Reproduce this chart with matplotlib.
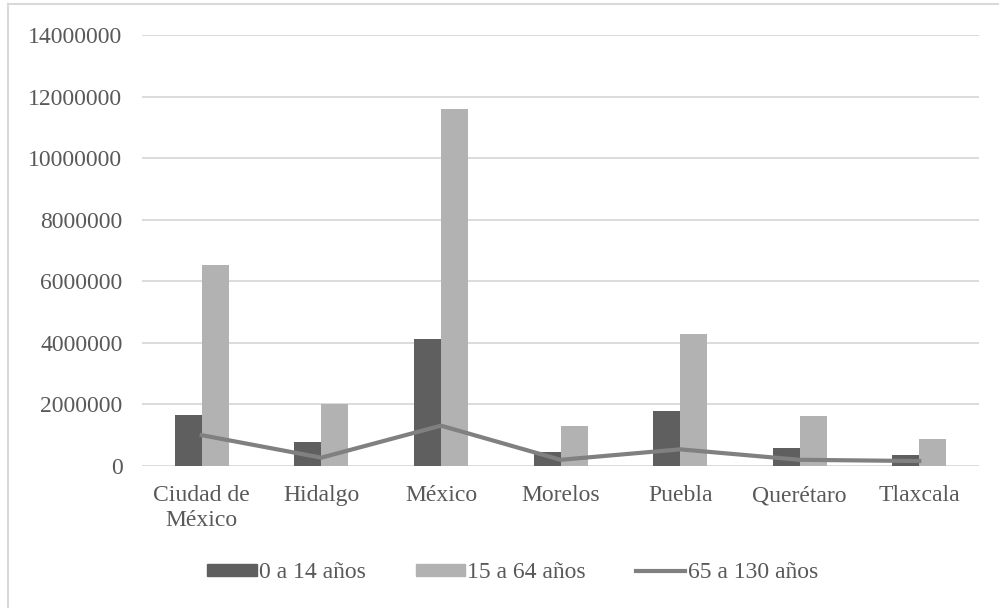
import matplotlib.pyplot as plt
import matplotlib.lines as mlines
import numpy as np

plt.rcParams['font.family'] = ['Liberation Serif', 'DejaVu Serif']

# Población por grupo de edad, región centro
estados = ['Ciudad de\nMéxico', 'Hidalgo', 'México', 'Morelos', 'Puebla', 'Querétaro', 'Tlaxcala']
edad_0_14 = [1660000, 780000, 4120000, 450000, 1780000, 580000, 350000]
edad_15_64 = [6520000, 2010000, 11600000, 1300000, 4280000, 1620000, 880000]
edad_65_130 = [1000000, 270000, 1310000, 200000, 540000, 200000, 160000]

gris_oscuro = '#5f5f5f'
gris_claro = '#b2b2b2'
gris_linea = '#808080'
texto = '#595959'

fig = plt.figure(figsize=(9.99, 6.08), dpi=100)
ax = fig.add_axes([0.1421, 0.2336, 0.838, 0.7089])

x = np.arange(len(estados))
ancho = 0.226
ax.bar(x - ancho / 2, edad_0_14, ancho, color=gris_oscuro, zorder=2, label='0 a 14 años')
ax.bar(x + ancho / 2, edad_15_64, ancho, color=gris_claro, zorder=2, label='15 a 64 años')
ax.plot(x, edad_65_130, color=gris_linea, lw=3, zorder=3, label='65 a 130 años')

ax.set_xlim(-0.5, len(estados) - 0.5)
ax.set_ylim(0, 14000000)
ax.set_yticks(np.arange(0, 14000001, 2000000))
ax.set_yticklabels([f'{int(v)}' for v in np.arange(0, 14000001, 2000000)])
ax.yaxis.grid(True, color='#d9d9d9', lw=1.3, zorder=0)
ax.set_xticks(x)
ax.set_xticklabels(estados, linespacing=1.25)
for s in ax.spines.values():
    s.set_visible(False)
ax.tick_params(axis='both', length=0, colors=texto, labelsize=17)
ax.tick_params(axis='y', pad=14)
ax.tick_params(axis='x', pad=14)

h1 = plt.Rectangle((0, 0), 1, 1, color=gris_oscuro)
h2 = plt.Rectangle((0, 0), 1, 1, color=gris_claro)
h3 = mlines.Line2D([], [], color=gris_linea, lw=3)
fig.legend([h1, h2, h3], ['0 a 14 años', '15 a 64 años', '65 a 130 años'],
           loc='center', bbox_to_anchor=(0.513, 0.058), ncol=3, frameon=False,
           fontsize=17, labelcolor=texto, handlelength=2.1, handleheight=0.42,
           handletextpad=0.1, columnspacing=2.1)

# borde del gráfico
fig.add_artist(mlines.Line2D([0.0085, 0.0085], [0, 0.993], color='#d9d9d9', lw=1.5))
fig.add_artist(mlines.Line2D([0.0085, 1], [0.993, 0.993], color='#d9d9d9', lw=1.5))

fig.savefig('out.png', dpi=100)
